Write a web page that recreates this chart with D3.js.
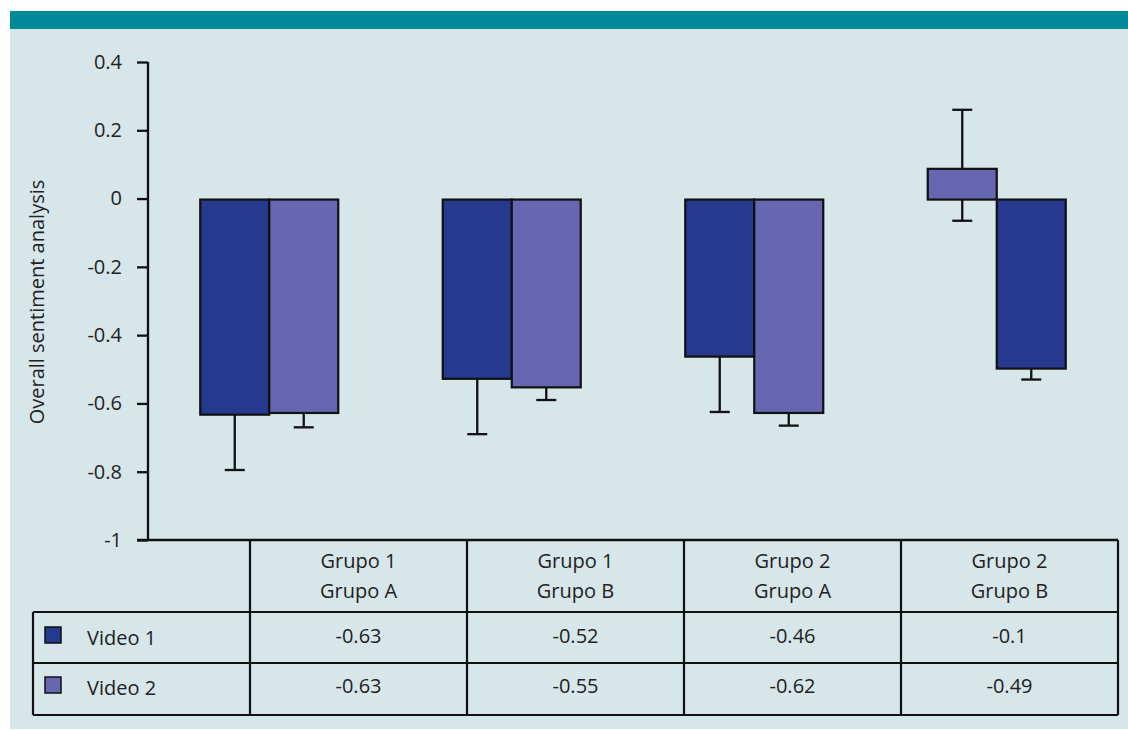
<!DOCTYPE html>
<html><head><meta charset="utf-8">
<script src="https://cdn.jsdelivr.net/npm/d3@7"></script>
<style>html,body{margin:0;padding:0;background:#fff;}svg{display:block;}</style>
</head><body>
<script>
// ---- data ----
const categories = ["Grupo 1|Grupo A","Grupo 1|Grupo B","Grupo 2|Grupo A","Grupo 2|Grupo B"];
const seriesNames = ["Video 1","Video 2"];
// bars as drawn: left bar and right bar per group (series name tells colour)
const leftSeries  = ["Video 1","Video 1","Video 1","Video 2"];
const leftValues  = [-0.63,-0.525,-0.46,0.09];
const leftErrLow  = [-0.795,-0.69,-0.625,-0.065];
const leftErrHigh = [-0.465,-0.36,-0.295,0.26];
const rightSeries = ["Video 2","Video 2","Video 2","Video 1"];
const rightValues = [-0.625,-0.55,-0.625,-0.495];
const rightErrLow = [-0.67,-0.59,-0.665,-0.53];
const rightErrHigh= [-0.58,-0.51,-0.585,-0.46];
const tableVideo1 = ["-0.63","-0.52","-0.46","-0.1"];
const tableVideo2 = ["-0.63","-0.55","-0.62","-0.49"];
const yTicks = [0.4,0.2,0,-0.2,-0.4,-0.6,-0.8,-1];
const yLabel = "Overall sentiment analysis";

const W=1128,H=730;
const FONT="'Open Sans', Lato, sans-serif";
const FS=20;
const svg=d3.select("body").append("svg").attr("width",W).attr("height",H);
svg.append("rect").attr("x",10).attr("y",11).attr("width",W-10).attr("height",H-12).attr("fill","#d6e6e9");
svg.append("rect").attr("x",10).attr("y",11).attr("width",W-10).attr("height",18).attr("fill","#008a99");

const color=d3.scaleOrdinal().domain(seriesNames).range(["#253a8e","#6667b0"]);
const y=d3.scaleLinear().domain([-1,0.4]).range([540,62]);
const x=d3.scaleBand().domain(categories).range([148,1118]);
const sub=d3.scaleBand().domain(["L","R"]).range([0,138]);
const groupX=c=>x(c)+x.bandwidth()/2-69;

// y axis
const ax=svg.append("g").attr("transform","translate(148,0)")
  .call(d3.axisLeft(y).tickValues(yTicks).tickSize(11).tickPadding(15).tickFormat(d=>String(d)));
ax.select(".domain").remove();
ax.selectAll("line").attr("stroke","#111").attr("stroke-width",2.3);
ax.selectAll("text").attr("font-family",FONT).attr("font-size",FS).attr("fill","#222");
svg.append("line").attr("x1",148).attr("x2",148).attr("y1",y(0.4)).attr("y2",y(-1)).attr("stroke","#111").attr("stroke-width",2.3);
svg.append("line").attr("x1",137).attr("x2",1118).attr("y1",y(-1)).attr("y2",y(-1)).attr("stroke","#111").attr("stroke-width",2.3);
svg.append("text").attr("transform","translate(44,302) rotate(-90)").attr("text-anchor","middle")
  .attr("font-family",FONT).attr("font-size",FS).attr("fill","#222").text(yLabel);

// bars
const bars=[];
categories.forEach((c,i)=>{
  bars.push({c,pos:"L",s:leftSeries[i],v:leftValues[i],lo:leftErrLow[i],hi:leftErrHigh[i]});
  bars.push({c,pos:"R",s:rightSeries[i],v:rightValues[i],lo:rightErrLow[i],hi:rightErrHigh[i]});
});
const eb=svg.append("g");
bars.forEach(b=>{
  const cx=groupX(b.c)+sub(b.pos)+sub.bandwidth()/2;
  eb.append("line").attr("x1",cx).attr("x2",cx).attr("y1",y(b.lo)).attr("y2",y(b.hi)).attr("stroke","#111").attr("stroke-width",2.3);
  [b.lo,b.hi].forEach(e=>eb.append("line").attr("x1",cx-10).attr("x2",cx+10).attr("y1",y(e)).attr("y2",y(e)).attr("stroke","#111").attr("stroke-width",2.3));
});
svg.append("g").selectAll("rect").data(bars).join("rect")
  .attr("x",b=>groupX(b.c)+sub(b.pos))
  .attr("width",sub.bandwidth())
  .attr("y",b=>y(Math.max(0,b.v))+1)
  .attr("height",b=>Math.abs(y(b.v)-y(0)))
  .attr("fill",b=>color(b.s)).attr("stroke","#111").attr("stroke-width",2.2);

// table
const tx=d3.scaleBand().domain(categories).range([250,1118]);
const rows=[612,663,715];
const tg=svg.append("g").attr("stroke","#111").attr("stroke-width",2.2);
[...categories.map(c=>tx(c)),1118].forEach(v=>tg.append("line").attr("x1",v).attr("x2",v).attr("y1",540).attr("y2",715));
tg.append("line").attr("x1",33).attr("x2",33).attr("y1",612).attr("y2",715);
rows.forEach(r=>tg.append("line").attr("x1",33).attr("x2",1118).attr("y1",r).attr("y2",r));
categories.forEach(c=>{
  const [a,b]=c.split("|");
  const t=svg.append("text").attr("x",tx(c)+tx.bandwidth()/2).attr("text-anchor","middle")
    .attr("font-family",FONT).attr("font-size",FS).attr("fill","#222");
  t.append("tspan").attr("x",tx(c)+tx.bandwidth()/2).attr("y",568).text(a);
  t.append("tspan").attr("x",tx(c)+tx.bandwidth()/2).attr("y",598).text(b);
});
[tableVideo1,tableVideo2].forEach((vals,ri)=>{
  const yy=[645,695][ri];
  svg.append("rect").attr("x",45).attr("y",yy-18).attr("width",16).attr("height",16)
    .attr("fill",color(seriesNames[ri])).attr("stroke","#111").attr("stroke-width",1.5);
  svg.append("text").attr("x",87).attr("y",yy).attr("font-family",FONT).attr("font-size",FS).attr("fill","#222").text(seriesNames[ri]);
  vals.forEach((v,i)=>svg.append("text").attr("x",tx(categories[i])+tx.bandwidth()/2).attr("y",yy-2).attr("text-anchor","middle")
    .attr("font-family",FONT).attr("font-size",FS).attr("fill","#222").text(v));
});
</script>
</body></html>
